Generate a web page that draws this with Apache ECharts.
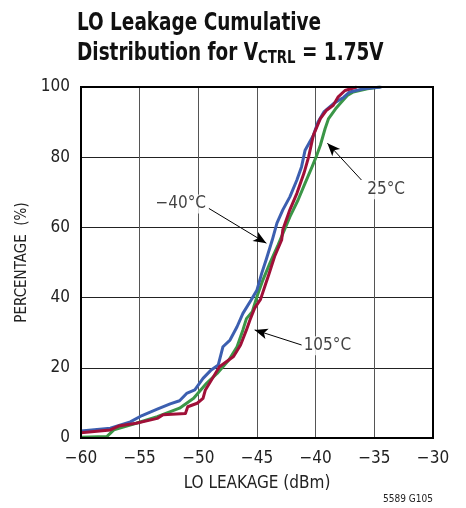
<!DOCTYPE html>
<html>
<head>
<meta charset="utf-8">
<script src="https://cdn.jsdelivr.net/npm/echarts@6/dist/echarts.min.js"></script>
<style>
html,body{margin:0;padding:0;background:#fff;}
#chart{width:466px;height:508px;}
</style>
</head>
<body>
<div id="chart"></div>
<script>
// ---- data ----
var xTicks = [-60, -55, -50, -45, -40, -35, -30];
var yTicks = [0, 20, 40, 60, 80, 100];

var seriesNames = ['−40°C', '25°C', '105°C'];

var blueData = [[-60,2],[-57.5,2.8],[-55.8,4.6],[-54.8,6.4],[-53.5,8.2],[-52.4,9.7],[-51.6,10.6],[-51,12.7],[-50.3,13.7],[-49.6,17],[-48.9,19.4],[-48.3,20.8],[-47.9,26],[-47.3,27.9],[-46.7,31.7],[-46.2,35.5],[-45.5,39.3],[-45,42.2],[-44.6,46.9],[-44.2,51],[-43.7,56.4],[-43.3,61.2],[-42.8,65],[-42.2,68.7],[-41.6,73.5],[-41.2,77.3],[-40.9,82],[-40.2,86.2],[-39.8,90],[-39.3,92.9],[-38.5,95.2],[-37.6,97.1],[-37.1,98.6],[-35.9,99.5],[-34.4,100]];

var greenData = [[-60,0.2],[-57.8,0.4],[-57.2,2.3],[-55.3,4.2],[-53.5,6.1],[-51.6,8.5],[-50.4,11.3],[-49.3,15.6],[-48.4,18.4],[-47.4,22.2],[-46.7,26],[-46.2,30.8],[-45.9,34],[-45.4,36],[-45,40.3],[-44.5,45],[-43.9,49.8],[-43.2,55],[-42.2,63],[-41.5,67.8],[-40.9,72.6],[-40.3,77.3],[-39.9,80.6],[-39.6,83.4],[-39.2,88.1],[-38.9,91],[-38.3,93.8],[-37.8,95.7],[-37.3,97.6],[-36.8,98.6],[-35.6,99.5],[-34.5,100]];

var redData = [[-60,1.5],[-57.5,2.3],[-56.8,3.4],[-55.3,4.2],[-53.5,5.6],[-53,6.6],[-51.1,7],[-50.9,8.9],[-50.1,9.9],[-49.6,11.3],[-49.4,13.7],[-48.7,17.5],[-48.2,20.3],[-47,23.2],[-46.4,26.5],[-45.9,30.8],[-45.6,33.6],[-45.2,37],[-44.7,39.5],[-44.3,43.5],[-44,46.5],[-43.5,51.7],[-42.9,56.4],[-42.8,59.3],[-42.2,65],[-41.6,69.7],[-41,75.4],[-40.6,80.1],[-40.2,86.2],[-39.6,91],[-39.1,93.3],[-38.5,94.8],[-38.1,97.1],[-37.5,99],[-36.5,100]];

// annotation: label text, label anchor, arrow start, arrow end (data units)
var annoText = ['−40°C', '25°C', '105°C'];
var annoLabelAt = [[-51.5,66.7],[-34.0,70.7],[-39.0,26.3]];
var annoFrom = [[-49.1,65.4],[-36.1,73.5],[-41.2,26.5]];
var annoTo = [[-44.2,55.5],[-39.0,84.0],[-45.2,30.8]];

// ---- chart ----
var FONT = '"DejaVu Sans Condensed","Liberation Sans",sans-serif';
var chart = echarts.init(document.getElementById('chart'), null, {renderer:'canvas'});

function lineSeries(name, data, color) {
  return {
    name: name, type: 'line', data: data, showSymbol: false, symbol: 'none',
    lineStyle: {color: color, width: 3, join: 'round'}, z: 3, animation: false
  };
}

var arrowData = annoFrom.map(function(f, i){
  return [{coord: f, symbol: 'none'}, {coord: annoTo[i], symbol: 'arrow', symbolSize: [8, 13]}];
});

var option = {
  animation: false,
  backgroundColor: '#fff',
  grid: {left: 81, right: 33, top: 87, bottom: 70, show: false},
  xAxis: {
    type: 'value', min: -60, max: -30, interval: 5,
    name: 'LO LEAKAGE (dBm)', nameLocation: 'middle', nameGap: 37,
    nameTextStyle: {fontFamily: FONT, fontSize: 17, color: '#222'},
    axisLine: {show: true, onZero: false, lineStyle: {color: '#000', width: 2}},
    axisTick: {show: false},
    axisLabel: {fontFamily: FONT, fontSize: 17, color: '#222', margin: 12,
      formatter: function(v){ return v < 0 ? '−' + Math.abs(v) : String(v); }},
    splitLine: {show: true, lineStyle: {color: '#555', width: 1}}
  },
  yAxis: {
    type: 'value', min: 0, max: 100, interval: 20,
    name: 'PERCENTAGE  (%)', nameLocation: 'middle', nameGap: 44,
    nameTextStyle: {fontFamily: FONT, fontSize: 15, color: '#222'},
    axisLine: {show: true, onZero: false, lineStyle: {color: '#000', width: 2}},
    axisTick: {show: false},
    axisLabel: {fontFamily: FONT, fontSize: 17, color: '#222', margin: 11},
    splitLine: {show: true, lineStyle: {color: '#222', width: 1}}
  },
  graphic: [
    {
      type: 'text', x: 77, y: 8, scaleX: 0.82, scaleY: 1, originX: 0, originY: 0, silent: true,
      style: {
        text: 'LO Leakage Cumulative\nDistribution for V{sub|CTRL} = 1.75V',
        fontFamily: FONT, fontWeight: 'bold', fontSize: 25, lineHeight: 30, fill: '#111',
        rich: {sub: {fontFamily: FONT, fontWeight: 'bold', fontSize: 18, fill: '#111', padding: [10,0,0,0]}}
      }
    },
    {type: 'text', right: 33, top: 494, silent: true, style: {text: '5589 G105', font: '10px ' + FONT, fill: '#222'}},
    {type: 'rect', shape: {x: 81, y: 87, width: 352, height: 351}, style: {fill: 'none', stroke: '#000', lineWidth: 2}, z: 10, silent: true}
  ],
  series: [
    lineSeries(seriesNames[1], greenData, '#3b9647'),
    lineSeries(seriesNames[0], blueData, '#3c5fb0'),
    lineSeries(seriesNames[2], redData, '#a01038'),
    {
      type: 'scatter', symbolSize: 0, z: 5, silent: true,
      data: annoLabelAt.map(function(p, i){ return {value: p, name: annoText[i]}; }),
      label: {show: true, position: 'inside', formatter: function(p){ return p.name; },
        fontFamily: FONT, fontSize: 17, color: '#111', backgroundColor: '#fff', padding: [1,1]},
      markLine: {
        silent: true, animation: false,
        lineStyle: {color: '#000', width: 1, type: 'solid'},
        label: {show: false},
        symbol: ['none', 'arrow'],
        data: arrowData
      }
    }
  ]
};
chart.setOption(option);
</script>
</body>
</html>
